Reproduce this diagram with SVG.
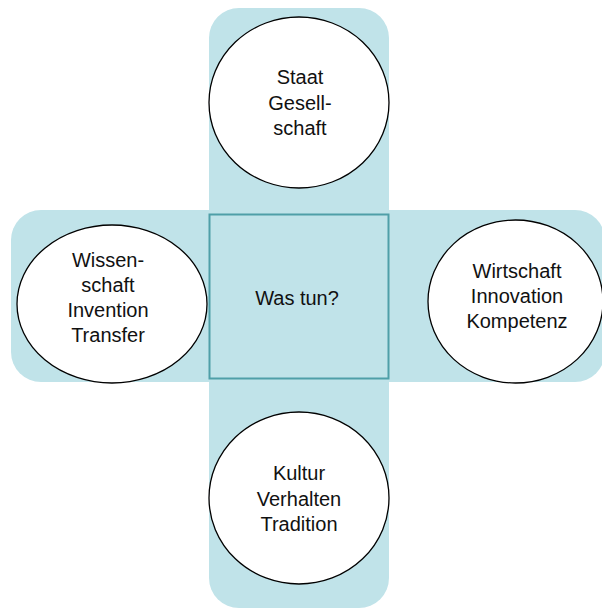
<svg xmlns="http://www.w3.org/2000/svg" width="602" height="608" viewBox="0 0 602 608">
<style>
.bar{fill:#c0e3e9;}
.node{fill:#ffffff;stroke:#000000;stroke-width:1.3;}
.t{font-family:"Liberation Sans",Arial,sans-serif;font-size:20px;fill:#111111;text-anchor:middle;}
</style>
<rect width="602" height="608" fill="#ffffff"/>
<g id="background">
<rect class="bar" x="209" y="8" width="180" height="600" rx="30" ry="30"/>
<rect class="bar" x="11" y="210" width="594" height="172" rx="30" ry="30"/>
</g>
<g id="connectors"></g>
<g id="center">
<rect x="209.5" y="214.5" width="179" height="164" fill="#c0e3e9" stroke="#4f9fa8" stroke-width="2"/>
<text class="t" x="297" y="305">Was tun?</text>
</g>
<g id="top">
<ellipse class="node" cx="299" cy="102.5" rx="90" ry="85.5"/>
<text class="t" x="300" y="84">Staat</text>
<text class="t" x="300" y="110">Gesell-</text>
<text class="t" x="300" y="135">schaft</text>
</g>
<g id="left">
<ellipse class="node" cx="112" cy="304" rx="95" ry="79"/>
<text class="t" x="108" y="267">Wissen-</text>
<text class="t" x="108" y="292">schaft</text>
<text class="t" x="108" y="317">Invention</text>
<text class="t" x="108" y="342">Transfer</text>
</g>
<g id="right">
<ellipse class="node" cx="515.5" cy="301.5" rx="87.5" ry="81.5"/>
<text class="t" x="517" y="278">Wirtschaft</text>
<text class="t" x="517" y="303">Innovation</text>
<text class="t" x="517" y="328">Kompetenz</text>
</g>
<g id="bottom">
<ellipse class="node" cx="299" cy="498" rx="90" ry="86"/>
<text class="t" x="299" y="480">Kultur</text>
<text class="t" x="299" y="506">Verhalten</text>
<text class="t" x="299" y="531">Tradition</text>
</g>
</svg>
